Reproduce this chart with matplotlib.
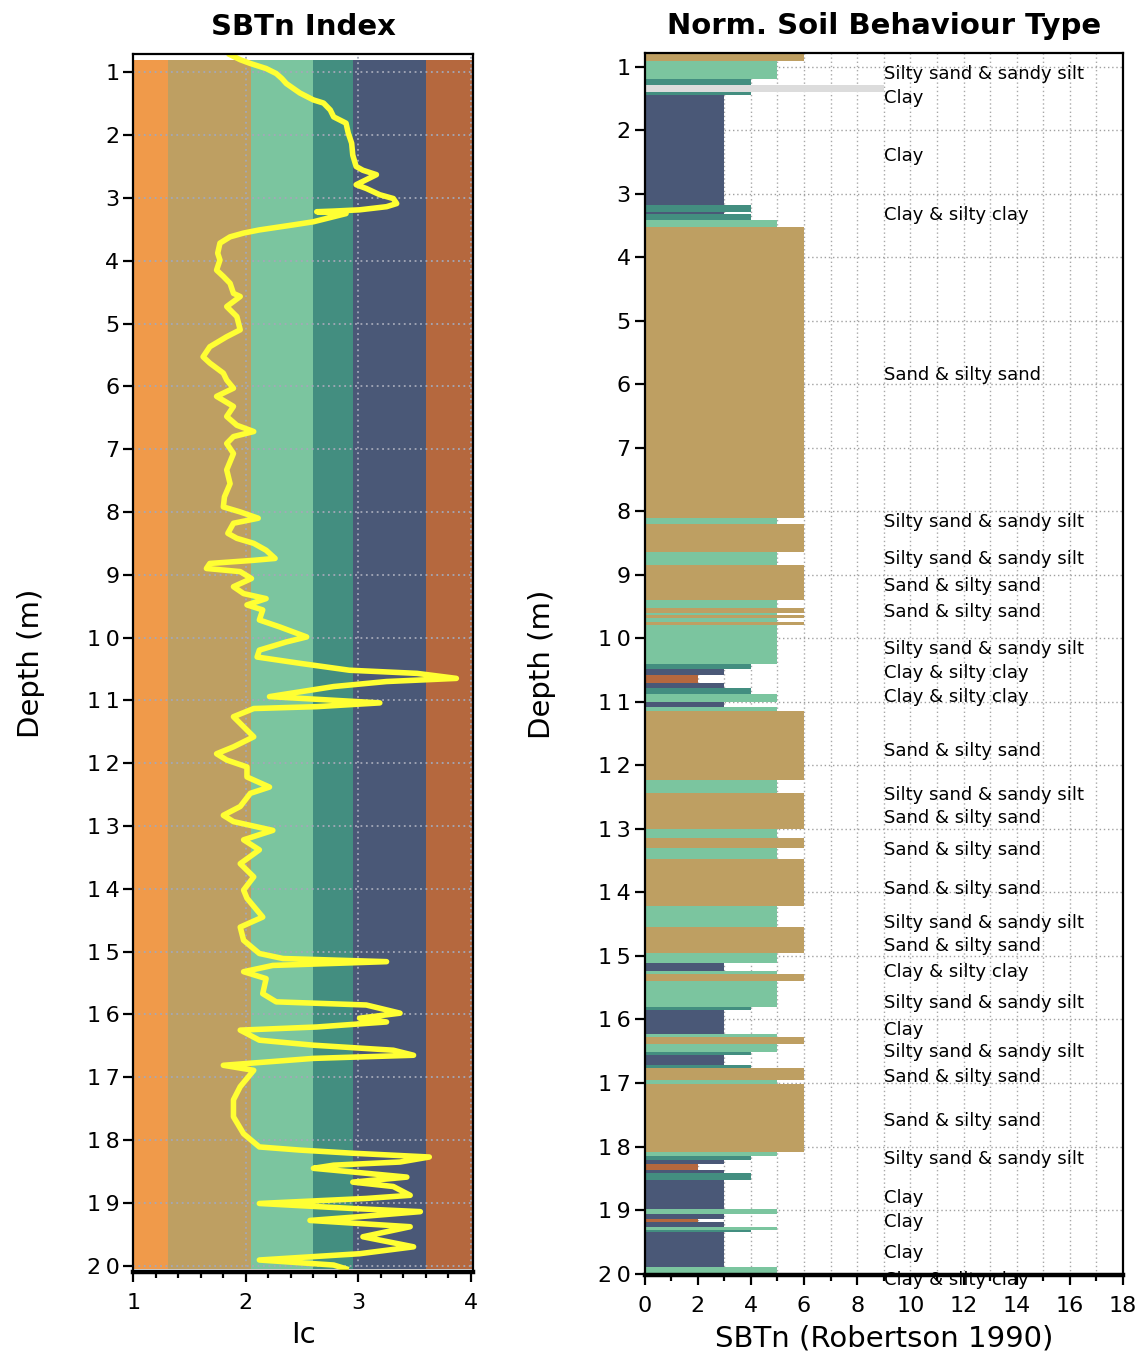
import matplotlib
matplotlib.use('Agg')
import matplotlib.pyplot as plt
from matplotlib.ticker import MultipleLocator, FuncFormatter

# Ic profile (yellow line)
ic_depth = [0.72, 0.80, 0.86, 0.94, 1.02, 1.10, 1.18, 1.33, 1.44, 1.49, 1.60, 1.71, 1.81, 1.97,
            2.13, 2.32, 2.50, 2.56, 2.63, 2.71, 2.79, 2.85, 2.95, 3.01, 3.09, 3.14, 3.19, 3.21,
            3.22, 3.25, 3.30, 3.38, 3.43, 3.51, 3.56, 3.62, 3.72, 3.88, 3.99, 4.15, 4.25, 4.36,
            4.52, 4.57, 4.73, 4.89, 5.10, 5.21, 5.37, 5.53, 5.63, 5.79, 5.90, 6.03, 6.16, 6.32,
            6.48, 6.62, 6.72, 6.80, 6.91, 7.07, 7.33, 7.55, 7.76, 7.92, 8.00, 8.10, 8.18, 8.34,
            8.42, 8.50, 8.61, 8.74, 8.77, 8.82, 8.90, 8.95, 9.06, 9.19, 9.30, 9.38, 9.48, 9.56,
            9.72, 9.83, 9.99, 10.07, 10.20, 10.31, 10.41, 10.52, 10.57, 10.65, 10.70, 10.78,
            10.94, 11.04, 11.10, 11.13, 11.26, 11.42, 11.58, 11.74, 11.85, 11.95, 12.06, 12.22,
            12.38, 12.48, 12.69, 12.83, 12.93, 13.07, 13.22, 13.38, 13.60, 13.81, 14.02, 14.15,
            14.45, 14.61, 14.82, 15.03, 15.11, 15.16, 15.22, 15.32, 15.43, 15.67, 15.80, 15.85,
            15.98, 16.06, 16.12, 16.20, 16.25, 16.41, 16.49, 16.57, 16.65, 16.70, 16.81, 16.89,
            17.15, 17.36, 17.63, 17.90, 18.11, 18.16, 18.21, 18.27, 18.35, 18.40, 18.45, 18.59,
            18.67, 18.74, 18.88, 18.93, 19.01, 19.09, 19.14, 19.22, 19.28, 19.38, 19.54, 19.70,
            19.81, 19.91, 19.99, 20.05]
ic_value = [1.86, 1.95, 2.04, 2.18, 2.27, 2.32, 2.36, 2.48, 2.60, 2.69, 2.75, 2.78, 2.89, 2.91,
            2.94, 2.95, 2.98, 3.04, 3.16, 3.07, 2.98, 3.07, 3.19, 3.31, 3.34, 3.25, 3.01, 2.78,
            2.63, 2.89, 2.78, 2.60, 2.42, 2.12, 1.98, 1.86, 1.77, 1.75, 1.77, 1.74, 1.80, 1.86,
            1.89, 1.95, 1.83, 1.92, 1.95, 1.83, 1.68, 1.62, 1.68, 1.80, 1.83, 1.89, 1.74, 1.89,
            1.83, 1.92, 2.07, 1.89, 1.83, 1.89, 1.83, 1.86, 1.81, 1.80, 1.95, 2.11, 1.89, 1.84,
            1.92, 2.07, 2.18, 2.26, 2.07, 1.68, 1.65, 1.95, 2.05, 1.89, 1.98, 2.18, 2.01, 2.15,
            2.12, 2.30, 2.54, 2.36, 2.12, 2.10, 2.48, 2.92, 3.52, 3.87, 3.25, 2.78,
            2.21, 3.19, 2.63, 2.07, 1.89, 1.98, 2.07, 1.89, 1.74, 1.83, 2.01, 2.01,
            2.21, 2.04, 1.95, 1.80, 1.89, 2.24, 1.98, 2.12, 1.95, 2.07, 1.98, 2.01,
            2.15, 1.95, 1.98, 2.12, 2.33, 3.25, 2.24, 1.98, 2.18, 2.15, 2.27, 3.07,
            3.37, 3.01, 3.25, 2.63, 1.95, 2.12, 2.60, 3.31, 3.49, 2.60, 1.80, 2.07,
            1.95, 1.89, 1.89, 1.98, 2.12, 2.48, 2.95, 3.63, 3.37, 2.78, 2.60, 3.43,
            2.95, 3.31, 3.46, 3.07, 2.12, 2.95, 3.55, 3.01, 2.57, 3.46, 3.04, 3.49,
            3.01, 2.12, 2.78, 2.89]

# Robertson Ic zone boundaries (background bands)
zone_bounds = [1.0, 1.31, 2.05, 2.60, 2.95, 3.60, 4.1]
zone_colors = ['#F09A4A', '#BE9F62', '#7BC59F', '#438E80', '#4A5877', '#B5683E']
band_depth = [0.80, 20.06]

# SBTn layers: top depth of each layer and its zone number
layer_top = [0.78, 0.905, 1.20, 1.29, 1.405, 1.44, 3.18, 3.29, 3.32, 3.41, 3.53, 8.11, 8.20,
             8.64, 8.85, 9.39, 9.52, 9.60, 9.63, 9.68, 9.75, 9.79, 10.40, 10.49, 10.57, 10.71,
             10.78, 10.87, 11.00, 11.08, 11.14, 12.23, 12.44, 13.00, 13.14, 13.30, 13.47, 14.21,
             14.54, 14.95, 15.11, 15.23, 15.28, 15.40, 15.80, 15.85, 16.23, 16.28, 16.39, 16.51,
             16.56, 16.71, 16.77, 16.96, 17.02, 18.09, 18.15, 18.21, 18.28, 18.37, 18.41, 18.53,
             18.99, 19.06, 19.14, 19.19, 19.27, 19.31, 19.35, 19.90]
layer_zone = [6, 5, 4, 9, 4, 3, 4, 3, 4, 5, 6, 5, 6,
              5, 6, 5, 6, 5, 6, 5, 6, 5, 4, 3, 2, 3,
              4, 5, 3, 5, 6, 5, 6, 5, 6, 5, 6, 5,
              6, 5, 3, 5, 6, 5, 4, 3, 5, 6, 5, 4,
              3, 4, 6, 5, 6, 5, 4, 3, 2, 3, 4, 3,
              5, 3, 2, 3, 5, 4, 3, 5]
layer_end = 20.0
sbt_colors = {2: '#B5683E', 3: '#4A5877', 4: '#438E80', 5: '#7BC59F', 6: '#BE9F62', 9: '#DCDCDC'}

# labels on the right panel
label_depth = [1.12, 1.49, 2.41, 3.33, 5.85, 8.17, 8.75, 9.17, 9.59, 10.17, 10.55, 10.93, 11.78,
               12.46, 12.83, 13.34, 13.94, 14.48, 14.85, 15.25, 15.74, 16.16, 16.52, 16.90,
               17.60, 18.20, 18.81, 19.19, 19.68, 20.10]
label_text = ['Silty sand & sandy silt', 'Clay', 'Clay', 'Clay & silty clay', 'Sand & silty sand',
              'Silty sand & sandy silt', 'Silty sand & sandy silt', 'Sand & silty sand',
              'Sand & silty sand', 'Silty sand & sandy silt', 'Clay & silty clay',
              'Clay & silty clay', 'Sand & silty sand', 'Silty sand & sandy silt',
              'Sand & silty sand', 'Sand & silty sand', 'Sand & silty sand',
              'Silty sand & sandy silt', 'Sand & silty sand', 'Clay & silty clay',
              'Silty sand & sandy silt', 'Clay', 'Silty sand & sandy silt', 'Sand & silty sand',
              'Sand & silty sand', 'Silty sand & sandy silt', 'Clay', 'Clay', 'Clay',
              'Clay & silty clay']

plt.rcParams['font.family'] = ['DejaVu Sans']

spaced = FuncFormatter(lambda v, p: '\u2009'.join(str(int(round(v)))))
plain = FuncFormatter(lambda v, p: str(int(round(v))))


def style_axes(ax):
    for s in ax.spines.values():
        s.set_linewidth(1.6)
        s.set_zorder(5)
    ax.spines['bottom'].set_linewidth(3.2)
    ax.tick_params(axis='both', which='major', direction='out', length=7, width=1.6,
                   labelsize=16, pad=3)
    ax.tick_params(axis='x', which='major', pad=8)
    ax.tick_params(axis='x', which='minor', direction='out', length=4, width=1.6)
    ax.tick_params(axis='y', which='minor', left=False)
    ax.yaxis.set_major_locator(MultipleLocator(1))
    ax.yaxis.set_major_formatter(spaced)
    ax.xaxis.set_major_formatter(plain)
    ax.set_ylabel('Depth (m)', fontsize=21, labelpad=30)


fig = plt.figure(figsize=(11.45, 13.55), dpi=100)

# ---- left panel: SBTn index ----
ax1 = fig.add_axes([0.1164, 0.0613, 0.2969, 0.8988])
for lo, hi, c in zip(zone_bounds[:-1], zone_bounds[1:], zone_colors):
    ax1.fill_betweenx(band_depth, lo, hi, color=c, lw=0, zorder=0)
ax1.grid(True, which='major', color='#A4A8B8', linestyle=(0, (1, 2)), linewidth=1.3, zorder=1)
ax1.set_axisbelow(False)
ax1.plot(ic_value, ic_depth, color='#FFFF33', lw=4.0, zorder=3)
ax1.set_xlim(1, 4.02)
ax1.set_ylim(20.1, 0.71)
ax1.xaxis.set_major_locator(MultipleLocator(1))
ax1.xaxis.set_minor_locator(MultipleLocator(0.2))
style_axes(ax1)
ax1.set_xlabel('Ic', fontsize=21, labelpad=6)
ax1.set_title('SBTn Index', fontsize=21, fontweight='bold', pad=14)

# ---- right panel: normalised soil behaviour type ----
ax2 = fig.add_axes([0.5629, 0.0587, 0.4179, 0.9020])
ax2.set_axisbelow(True)
ax2.grid(True, which='major', axis='y', color='#A0A0A0', linestyle=(0, (1, 2)), linewidth=1.0)
ax2.grid(True, which='both', axis='x', color='#A8A8A8', linestyle=(0, (1, 2)), linewidth=1.0)
layer_bottom = layer_top[1:] + [layer_end]
ax2.barh(layer_top, layer_zone, height=[b - t for t, b in zip(layer_top, layer_bottom)],
         left=0, align='edge', color=[sbt_colors[z] for z in layer_zone], lw=0, zorder=2)
for d, t in zip(label_depth, label_text):
    ax2.text(9.0, d, t, fontsize=13, va='center', ha='left', zorder=3, clip_on=False)
ax2.set_xlim(0, 18)
ax2.set_ylim(20.03, 0.79)
ax2.xaxis.set_major_locator(MultipleLocator(2))
ax2.xaxis.set_minor_locator(MultipleLocator(1))
style_axes(ax2)
ax2.set_xlabel('SBTn (Robertson 1990)', fontsize=21, labelpad=6)
ax2.set_title('Norm. Soil Behaviour Type', fontsize=21, fontweight='bold', pad=14)

fig.savefig('out.png', dpi=100)
